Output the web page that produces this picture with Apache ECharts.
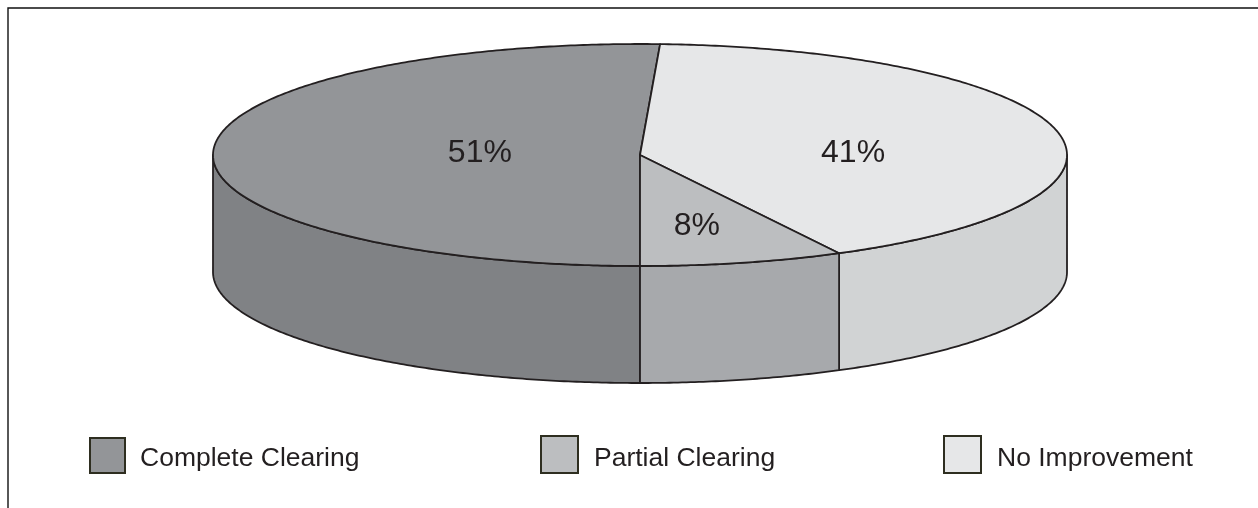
<!DOCTYPE html>
<html><head><meta charset="utf-8">
<style>html,body{margin:0;padding:0;background:#fff}#c{width:1258px;height:508px}</style>
<script src="https://cdn.jsdelivr.net/npm/echarts@6/dist/echarts.min.js"></script>
</head><body><div id="c"></div>
<script>
const categories = ['Complete Clearing', 'Partial Clearing', 'No Improvement'];
const percents = [51, 8, 41];
// slice shares as actually drawn in the picture (the printed labels are rounded)
const drawnShares = [50.75, 7.72, 41.53];
// drawing order: clockwise from the front of the pie
const sliceOrder = [0, 2, 1];
const topColors = ['#939598', '#bcbec0', '#e6e7e8'];
const sideColors = ['#808285', '#a7a9ac', '#d1d3d4'];
const labelOffsetX = [-0.375, 0.133, 0.499];
const labelOffsetY = [-0.012, 0.64, -0.018];
const legendLeft = [84, 535, 938];
const legendTop = [432, 430, 430];
const legendIcon = [35, 37, 37];
const legendPad = [[6, 0, 0, 10], [8, 0, 0, 11], [8, 0, 0, 11]];

const cx = 640, cy = 155, rx = 427, ry = 111, depth = 117;
const total = drawnShares.reduce((a, b) => a + b, 0);
const ink = '#231f20';

function pt(a, dy) { return [cx + rx * Math.cos(a), cy + ry * Math.sin(a) + (dy || 0)]; }
function arcPts(a0, a1, dy) {
  const n = Math.max(2, Math.ceil(Math.abs(a1 - a0) / 0.01)), out = [];
  for (let i = 0; i <= n; i++) out.push(pt(a0 + (a1 - a0) * i / n, dy));
  return out;
}
const angles = {};
let acc = Math.PI / 2;
sliceOrder.forEach(i => {
  const sweep = drawnShares[i] / total * Math.PI * 2;
  angles[i] = [acc, acc + sweep];
  acc += sweep;
});

function renderSlice(i, api) {
  const value = api.value(0);
  const [a0, a1] = angles[i];
  const children = [];
  const style = (fill) => ({ fill, stroke: ink, lineWidth: 1.8, lineJoin: 'round' });
  const ranges = [[0, Math.PI], [2 * Math.PI, 3 * Math.PI]];
  ranges.forEach(([lo, hi]) => {
    const s = Math.max(a0, lo), e = Math.min(a1, hi);
    if (e > s) {
      const upper = arcPts(s, e, 0), lower = arcPts(e, s, depth);
      children.push({ type: 'polygon', shape: { points: upper.concat(lower) }, style: style(sideColors[i]) });
    }
  });
  children.push({ type: 'polygon', shape: { points: [[cx, cy]].concat(arcPts(a0, a1, 0)) }, style: style(topColors[i]) });
  children.push({ type: 'text', z2: 10, style: {
    text: value + '%', x: cx + rx * labelOffsetX[i], y: cy + ry * labelOffsetY[i],
    align: 'center', verticalAlign: 'middle',
    font: '32px "Liberation Sans"', fill: ink } });
  return { type: 'group', children };
}

const series = categories.map((name, i) => ({
  type: 'custom', name, coordinateSystem: 'none', silent: true, animation: false,
  itemStyle: { color: topColors[i], borderColor: '#2e2e20', borderWidth: 1 },
  data: [[percents[i]]],
  renderItem: (p, api) => renderSlice(i, api),
  z: sliceOrder.indexOf(i) + 1
}));

const chart = echarts.init(document.getElementById('c'), null, { renderer: 'canvas' });
chart.setOption({
  backgroundColor: '#fff',
  animation: false,
  legend: categories.map((name, i) => ({
    data: [name], left: legendLeft[i], top: legendTop[i], orient: 'horizontal', selectedMode: false,
    icon: 'rect', itemWidth: legendIcon[i], itemHeight: legendIcon[i], itemGap: 0,
    formatter: '{t|{name}}',
    textStyle: {
      fontFamily: 'Liberation Sans', fontSize: 26.5, color: ink,
      rich: { t: { fontFamily: 'Liberation Sans', fontSize: 26.5, color: ink, padding: legendPad[i] } }
    }
  })),
  graphic: [
    { type: 'polyline', silent: true, shape: { points: [[8, 508], [8, 8], [1258, 8]] }, style: { fill: 'none', stroke: '#111', lineWidth: 1.4 } }
  ],
  series
});
</script></body></html>
